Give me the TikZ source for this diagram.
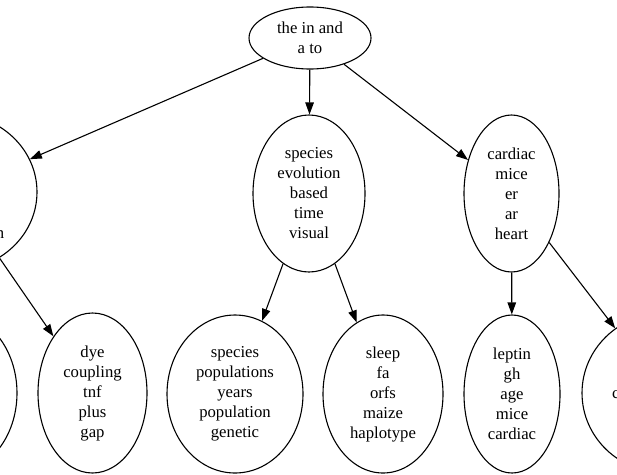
\documentclass[tikz,border=0pt]{standalone}
\usepackage{fontspec}
\setmainfont{Liberation Serif}
\usetikzlibrary{shapes.geometric,arrows.meta}
\begin{document}
\begin{tikzpicture}[x=1pt,y=-1pt,
  ell/.style={ellipse, draw, line width=1.1pt, inner sep=0pt, align=center,
    font=\fontsize{16.7}{20}\selectfont},
  lbl/.style={inner sep=0pt, font=\fontsize{16.7}{20}\selectfont},
  arr/.style={-{Triangle[length=12pt,width=8.5pt]}, line width=1.1pt}]
\useasboundingbox (0,0) rectangle (617,474);
\clip (0,0) rectangle (617,474);
\node[ell, minimum width=122pt, minimum height=62pt] (top) at (310,38) {the in and\\a to};
\node[ell, minimum width=112pt, minimum height=157pt] (mid) at (309,193.5) {species\\evolution\\based\\time\\visual};
\node[ell, minimum width=95pt, minimum height=157pt] (right) at (511.5,193.5) {cardiac\\mice\\er\\ar\\heart};
\node[ell, minimum width=166pt, minimum height=156pt] (left) at (-46,192) {};
\node[ell, minimum width=128pt, minimum height=160pt] (bl) at (-47,393) {};
\node[ell, minimum width=109pt, minimum height=160pt] (dye) at (92.5,393) {dye\\coupling\\tnf\\plus\\gap};
\node[ell, minimum width=136pt, minimum height=158pt] (spp) at (235,394) {species\\populations\\years\\population\\genetic};
\node[ell, minimum width=120pt, minimum height=158pt] (sleep) at (383,394) {sleep\\fa\\orfs\\maize\\haplotype};
\node[ell, minimum width=96pt, minimum height=158pt] (leptin) at (512,394) {leptin\\gh\\age\\mice\\cardiac};
\node[ell, minimum width=166pt, minimum height=160pt] (br) at (665,393) {};
\node[lbl, anchor=base east] (ltxt) at (4.5,238) {n};
\node[lbl, anchor=base west] (rtxt) at (612,398) {c};
\draw[arr] (top) -- (left);
\draw[arr] (top) -- (mid);
\draw[arr] (top) -- (right);
\draw[arr] (left) -- (dye);
\draw[arr] (mid) -- (spp);
\draw[arr] (mid) -- (sleep);
\draw[arr] (right) -- (leptin);
\draw[arr] (right) -- (br);
\end{tikzpicture}
\end{document}
